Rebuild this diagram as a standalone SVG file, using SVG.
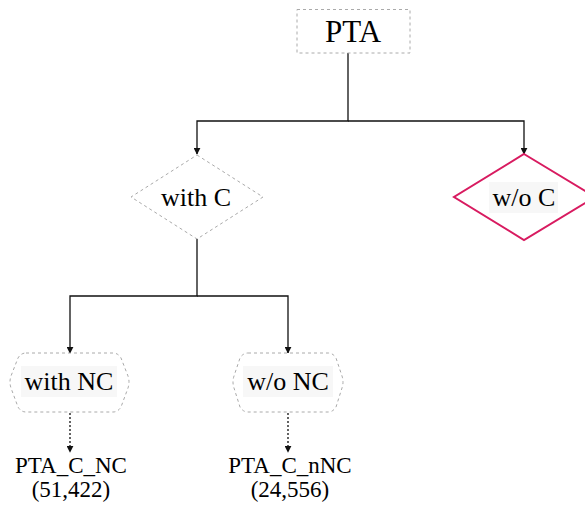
<svg xmlns="http://www.w3.org/2000/svg" width="585" height="510" viewBox="0 0 585 510">
<style>
text{font-family:"Liberation Serif","Times New Roman",serif;fill:#000;text-anchor:middle}
.dash{fill:#fff;stroke:#aaa;stroke-width:1;stroke-dasharray:3,3}
.lbl{font-size:26px}
.leaf{font-size:23px}
.bg{fill:#f7f7f7}
.conn{fill:none;stroke:#111;stroke-width:1.3}
.dot{fill:none;stroke:#111;stroke-width:1.3;stroke-dasharray:2,2}
</style>
<defs>
<marker id="ah" viewBox="0 0 10 10" refX="9" refY="5" markerWidth="7" markerHeight="7" markerUnits="userSpaceOnUse" orient="auto">
<path d="M0,0 L10,5 L0,10 z" fill="#111"/>
</marker>
</defs>
<rect width="585" height="510" fill="#fff"/>
<g id="connectors">
<path class="conn" d="M348,53 V121 H197 V154" marker-end="url(#ah)"/>
<path class="conn" d="M348,121 H524 V154" marker-end="url(#ah)"/>
<path class="conn" d="M197,239 V296 H70 V353" marker-end="url(#ah)"/>
<path class="conn" d="M197,296 H288 V353" marker-end="url(#ah)"/>
<path class="dot" d="M70,413 V452" marker-end="url(#ah)"/>
<path class="dot" d="M288,413 V452" marker-end="url(#ah)"/>
</g>
<g id="pta">
<rect class="dash" x="297" y="9.5" width="113" height="43.5"/>
<text x="353" y="42" style="font-size:31px">PTA</text>
</g>
<g id="withC">
<polygon class="dash" points="197,155 263,197 197,239 131,197"/>
<text class="lbl" x="196" y="206">with C</text>
</g>
<g id="woC">
<polygon points="524,154 595,197 524,240 454,197" fill="#fff" stroke="#d81b60" stroke-width="2"/>
<rect class="bg" x="489" y="182" width="69" height="31"/>
<text class="lbl" x="524" y="206">w/o C</text>
</g>
<g id="withNC">
<path class="dash" d="M26,353 H113 Q118,353 121,358 L128,376 Q130,382 128,388 L121,407 Q118,412 113,412 H26 Q21,412 18,407 L11,388 Q9,382 11,376 L18,358 Q21,353 26,353 Z"/>
<rect class="bg" x="21" y="366" width="96" height="31"/>
<text class="lbl" x="69" y="390">with NC</text>
</g>
<g id="woNC">
<path class="dash" d="M248,353 H328 Q333,353 336,358 L342,376 Q344,382 342,388 L336,407 Q333,412 328,412 H248 Q243,412 240,407 L234,388 Q232,382 234,376 L240,358 Q243,353 248,353 Z"/>
<rect class="bg" x="243" y="366" width="90" height="31"/>
<text class="lbl" x="288" y="390">w/o NC</text>
</g>
<g id="leafNC">
<text class="leaf" x="71" y="473">PTA_C_NC</text>
<text class="leaf" x="71" y="497">(51,422)</text>
</g>
<g id="leafnNC">
<text class="leaf" x="290" y="473">PTA_C_nNC</text>
<text class="leaf" x="290" y="497">(24,556)</text>
</g>
</svg>
